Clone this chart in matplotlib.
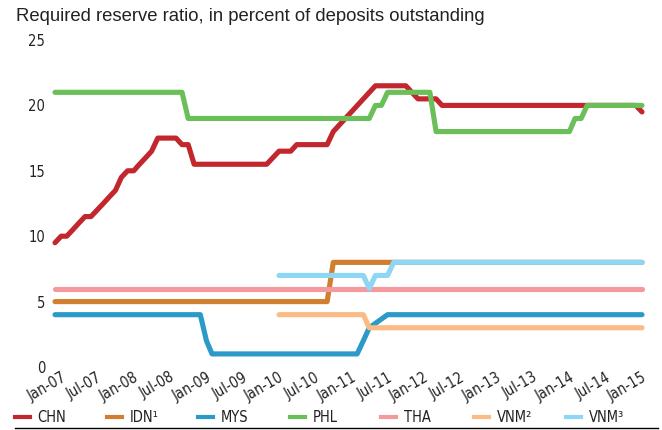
import matplotlib
matplotlib.use('Agg')
import matplotlib.pyplot as plt
import matplotlib.dates as mdates
import matplotlib.transforms as mtransforms
from matplotlib.lines import Line2D
import pandas as pd

# vertices (month, percent)
chn_dates = ['2007-01', '2007-02', '2007-03', '2007-04', '2007-05', '2007-06', '2007-07',
             '2007-08', '2007-09', '2007-10', '2007-11', '2007-12', '2008-01', '2008-02',
             '2008-03', '2008-04', '2008-05', '2008-06', '2008-09', '2008-10', '2008-11',
             '2008-12', '2009-12', '2010-01', '2010-02', '2010-04', '2010-05', '2010-10',
             '2010-11', '2011-06', '2011-11', '2011-12', '2012-01', '2012-04', '2012-05',
             '2015-01', '2015-02']
chn_vals = [9.5, 10, 10, 10.5, 11, 11.5, 11.5,
            12, 12.5, 13, 13.5, 14.5, 15, 15,
            15.5, 16, 16.5, 17.5, 17.5, 17, 17,
            15.5, 15.5, 16, 16.5, 16.5, 17, 17,
            18, 21.5, 21.5, 21, 20.5, 20.5, 20,
            20, 19.5]

idn_dates = ['2007-01', '2010-10', '2010-11', '2015-02']
idn_vals = [5, 5, 8, 8]

mys_dates = ['2007-01', '2009-01', '2009-02', '2009-03', '2011-03', '2011-04', '2011-05',
             '2011-08', '2015-02']
mys_vals = [4, 4, 2, 1, 1, 2, 3, 4, 4]

phl_dates = ['2007-01', '2008-10', '2008-11', '2011-05', '2011-06', '2011-07', '2011-08',
             '2012-03', '2012-04', '2014-02', '2014-03', '2014-04', '2014-05', '2015-02']
phl_vals = [21, 21, 19, 19, 20, 20, 21, 21, 18, 18, 19, 19, 20, 20]

tha_dates = ['2007-01', '2015-02']
tha_vals = [6, 6]

vnm2_dates = ['2010-02', '2011-04', '2011-05', '2015-02']
vnm2_vals = [4, 4, 3, 3]

vnm3_dates = ['2010-02', '2011-04', '2011-05', '2011-06', '2011-08', '2011-09', '2015-02']
vnm3_vals = [7, 7, 6, 7, 7, 8, 8]

labels = ['CHN', 'IDN¹', 'MYS', 'PHL', 'THA', 'VNM²', 'VNM³']
colors = ['#c1272d', '#d07e2f', '#2b9ac9', '#6bbf59', '#f4999e', '#fbbb84', '#8dd7f5']
series = [(chn_dates, chn_vals), (idn_dates, idn_vals), (mys_dates, mys_vals),
          (phl_dates, phl_vals), (tha_dates, tha_vals), (vnm2_dates, vnm2_vals),
          (vnm3_dates, vnm3_vals)]

plt.rcParams['font.family'] = ['DejaVu Sans']
plt.rcParams['font.stretch'] = 'condensed'

fig = plt.figure(figsize=(6.62, 4.30), dpi=100)
ax = fig.add_axes([55 / 662, 63 / 430, 587 / 662, 327 / 430])

lines = []
for (d, v), lab, c in zip(series, labels, colors):
    ln, = ax.plot(pd.to_datetime(d), v, color=c, lw=3.7, label=lab, clip_on=False,
                  solid_capstyle='round', solid_joinstyle='round')
    lines.append(ln)

ax.set_xlim(pd.Timestamp('2007-01-01'), pd.Timestamp('2015-02-01'))
ax.set_ylim(0, 25)
ax.set_yticks([0, 5, 10, 15, 20, 25])
ax.xaxis.set_major_locator(mdates.MonthLocator(bymonth=[1, 7]))
ax.xaxis.set_major_formatter(mdates.DateFormatter('%b-%y'))
ax.tick_params(length=0, labelsize=10.5, colors='#222222')
ax.tick_params(axis='y', pad=7)
ax.tick_params(axis='x', pad=2)
shift = mtransforms.ScaledTranslation(6 / 100, 0, fig.dpi_scale_trans)
for t in ax.get_xticklabels():
    t.set_rotation(30)
    t.set_ha('right')
    t.set_va('top')
    t.set_rotation_mode('anchor')
    t.set_transform(t.get_transform() + shift)
for s in ax.spines.values():
    s.set_visible(False)

fig.text(16 / 662, 1 - 8 / 430, 'Required reserve ratio, in percent of deposits outstanding',
         fontsize=13.3, va='top', ha='left', color='#222222',
         family=['Liberation Sans', 'DejaVu Sans'], stretch='normal')

# one legend entry per slot, evenly spaced like the original
slots = [15, 107, 198, 290, 381, 474, 566]
for x0, lab, c in zip(slots, labels, colors):
    h = Line2D([], [], color=c, lw=3)
    leg = fig.legend([h], [lab], loc='center left', bbox_to_anchor=(x0 / 662, 1 - 418 / 430),
                     frameon=False, fontsize=10.5, handlelength=1.05, handletextpad=0.5,
                     borderpad=0, borderaxespad=0)
    for txt in leg.get_texts():
        txt.set_color('#222222')

fig.add_artist(Line2D([15 / 662, 658 / 662], [1 - 428 / 430] * 2, color='black', lw=1))

fig.savefig('out.png', dpi=100)
